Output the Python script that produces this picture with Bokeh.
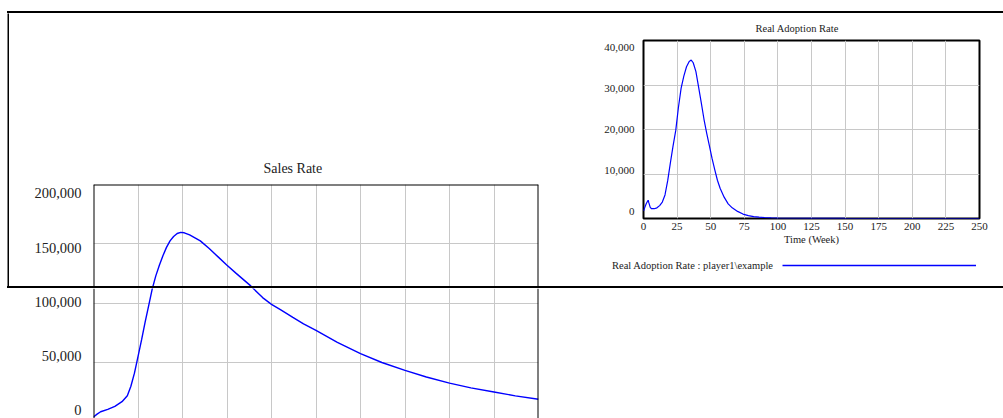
from bokeh.plotting import figure
from bokeh.layouts import row, column
from bokeh.models import (Range1d, LinearAxis, FixedTicker, NumeralTickFormatter, Grid,
                          Span, Legend, LegendItem, Spacer, Div)
from bokeh.embed import file_html
from bokeh.resources import INLINE

FONT = "Liberation Serif"
TEXT = "#222222"
BLUE = "#0000ff"
GRID = "#c8c8c8"

# ---------------- data ----------------
sales_title = "Sales Rate"
adopt_title = "Real Adoption Rate"
x_label = "Time (Week)"
legend_label = "Real Adoption Rate : player1\\example"

week_ticks = [0, 25, 50, 75, 100, 125, 150, 175, 200, 225, 250]
sales_ticks = [0, 50000, 100000, 150000, 200000]
adopt_ticks = [0, 10000, 20000, 30000, 40000]

sales_weeks = [0, 2, 4, 8, 12, 16, 19, 21, 23, 25, 27, 29, 31, 33, 35, 37, 39, 41, 43, 45,
               47, 49, 51, 54, 57, 60, 65, 70, 75, 80, 88, 95, 100, 105, 112, 118, 125,
               137, 150, 162, 175, 187, 200, 212, 225, 237, 250]
sales_rate = [4000, 6500, 8500, 10500, 13000, 17000, 22000, 30000, 41000, 55000, 69000,
              84000, 98000, 112000, 123000, 132000, 140000, 147000, 152500, 156200,
              158700, 159700, 159300, 157500, 155000, 152500, 146000, 139000, 132000,
              125300, 115000, 104700, 99000, 94500, 88000, 82500, 77000, 67000, 57400,
              50000, 43300, 37800, 32600, 28600, 25100, 21900, 19000]

adopt_weeks = [0, 1, 2, 3, 3.5, 4, 5, 6, 8, 10, 12, 14, 16, 18, 20, 22, 24, 26, 28, 30,
               32, 34, 35.5, 37, 39, 41, 43, 45, 47, 49, 51, 53, 55, 57, 60, 63, 66, 70,
               74, 78, 82, 86, 90, 95, 100, 125, 150, 175, 200, 225, 250]
adopt_rate = [1700, 2500, 3300, 3900, 4100, 3500, 2500, 2200, 2200, 2400, 2900, 3700,
              5300, 8500, 12500, 16300, 19800, 25000, 29300, 32000, 34100, 35300, 35600,
              35000, 33000, 29500, 26000, 22300, 19200, 16400, 13500, 11000, 8600, 6800,
              4800, 3300, 2400, 1600, 1000, 650, 420, 300, 220, 150, 100, 30, 10, 5, 5,
              5, 5]


def base_fig(width, height, **kw):
    f = figure(width=width, height=height, output_backend="svg", toolbar_location=None,
               frame_align=False, **kw)
    f.background_fill_color = "white"
    f.border_fill_color = "white"
    f.center = []          # drop the automatic grids; grids are added explicitly
    return f


def vbar(width, height):
    b = base_fig(width, height, x_axis_location=None, y_axis_location=None,
                 min_border=0, title=None)
    b.border_fill_color = "black"
    b.background_fill_color = "black"
    b.outline_line_color = None
    return b


def hbar(width, height):
    return Div(text="", width=width, height=height, margin=0,
               styles={"background-color": "black"})


def add_grids(f, xticks, yticks):
    f.add_layout(Grid(dimension=0, ticker=FixedTicker(ticks=xticks),
                      grid_line_color=GRID, grid_line_width=1))
    f.add_layout(Grid(dimension=1, ticker=FixedTicker(ticks=yticks),
                      grid_line_color=GRID, grid_line_width=1))


def label_axis(ticks, size, standoff):
    return LinearAxis(y_range_name="lab", ticker=FixedTicker(ticks=ticks),
                      formatter=NumeralTickFormatter(format="0,0"),
                      axis_line_color=None, major_tick_line_color=None,
                      minor_tick_line_color=None, major_tick_out=0, major_tick_in=0,
                      major_label_standoff=standoff, major_label_text_font=FONT,
                      major_label_text_font_size=size, major_label_text_color=TEXT)


def sales_part(width, height, yr, lab, mbl, mbt, with_title):
    f = base_fig(width, height, x_range=Range1d(0, 250), y_range=Range1d(*yr),
                 x_axis_location=None, y_axis_location=None,
                 title=sales_title if with_title else None,
                 min_border_left=mbl, min_border_right=42, min_border_top=mbt,
                 min_border_bottom=0)
    f.outline_line_color = None
    if with_title:
        f.title.align = "left"
        f.title.offset = 170
        f.title.text_font = FONT
        f.title.text_font_size = "14px"
        f.title.text_font_style = "normal"
        f.title.text_color = TEXT
        f.title.standoff = 17
    add_grids(f, week_ticks, sales_ticks)
    f.extra_y_ranges = {"lab": Range1d(*lab)}
    f.add_layout(label_axis(sales_ticks, "14.5px", 12), "left")
    f.line(sales_weeks, sales_rate, line_color=BLUE, line_width=1.4)
    spans = [(0, "height"), (250, "height")]
    if with_title:
        spans.append((200000, "width"))
    for loc, dim in spans:
        f.add_layout(Span(location=loc, dimension=dim, line_color="black",
                          line_width=2, level="overlay"))
    return f


# ---------------- Sales Rate (split by the window border) ----------------
p1_top = sales_part(571, 273, (114045, 200000), (114087, 208314), 84, 171, True)
p1_bot = sales_part(580, 130, (2808, 112359), (-7855, 112239), 93, 0, False)

# ---------------- Real Adoption Rate ----------------
p2 = base_fig(423, 240, x_range=Range1d(0, 250), y_range=Range1d(0, 40000),
              y_axis_location=None, title=adopt_title,
              min_border_left=63, min_border_right=24, min_border_top=26,
              min_border_bottom=35)
p2.outline_line_color = "black"
p2.outline_line_width = 2
p2.title.align = "left"
p2.title.offset = 112
p2.title.text_font = FONT
p2.title.text_font_size = "10.5px"
p2.title.text_font_style = "normal"
p2.title.text_color = TEXT
p2.title.standoff = 14

xa = p2.xaxis[0]
xa.ticker = FixedTicker(ticks=week_ticks)
xa.axis_label = x_label
xa.axis_line_color = None
xa.major_tick_line_color = None
xa.minor_tick_line_color = None
xa.major_tick_out = 0
xa.major_tick_in = 0
xa.major_label_standoff = 4
xa.major_label_text_font = FONT
xa.major_label_text_font_size = "11px"
xa.major_label_text_color = TEXT
xa.axis_label_text_font = FONT
xa.axis_label_text_font_size = "10.5px"
xa.axis_label_text_font_style = "normal"
xa.axis_label_text_color = TEXT
xa.axis_label_standoff = 1
add_grids(p2, week_ticks, adopt_ticks)
p2.extra_y_ranges = {"lab": Range1d(-1697, 41697)}
p2.add_layout(label_axis(adopt_ticks, "11px", 9), "left")
p2.line(adopt_weeks, adopt_rate, line_color=BLUE, line_width=1.2)

# ---------------- legend strip ----------------
p3 = base_fig(423, 33, x_range=Range1d(0, 250), y_range=Range1d(-2, -1),
              x_axis_location=None, y_axis_location=None, min_border=0, title=None)
p3.outline_line_color = None
r_blank = p3.line(adopt_weeks, adopt_rate, line_alpha=0)
r_blue = p3.line(adopt_weeks, adopt_rate, line_color=BLUE, line_width=1.5)
legend = Legend(items=[LegendItem(label=legend_label, renderers=[r_blank]),
                       LegendItem(label="", renderers=[r_blue])],
                orientation="horizontal", location=(-162, 15),
                glyph_width=194, glyph_height=12, label_height=12,
                label_standoff=0, padding=0, margin=0, spacing=9,
                border_line_alpha=0, background_fill_alpha=0,
                label_text_font=FONT, label_text_font_size="10.5px",
                label_text_color=TEXT)
p3.add_layout(legend)

# ---------------- assemble (window borders as black bars) ----------------
top_row = row(Spacer(width=7, height=273), vbar(2, 273), p1_top, column(p2, p3))
layout = column(
    Spacer(width=1003, height=11),
    row(Spacer(width=7, height=2), hbar(996, 2)),
    top_row,
    row(Spacer(width=7, height=2), hbar(996, 2)),
    p1_bot,
)
open("out.html", "w").write(file_html(layout, INLINE))
